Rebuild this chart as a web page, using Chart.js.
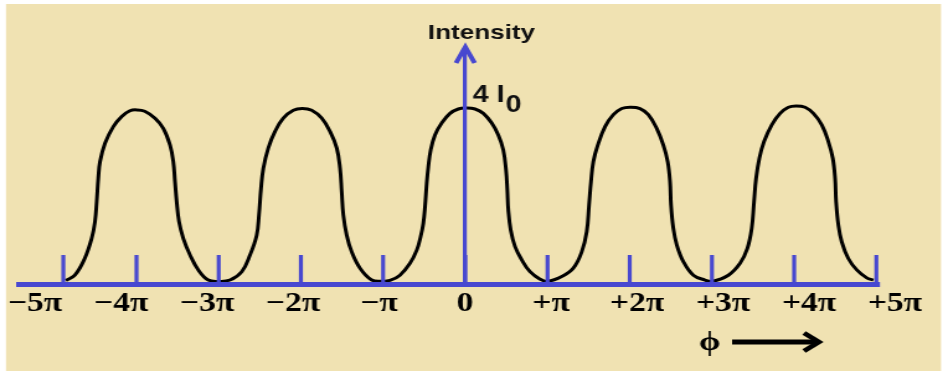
<!DOCTYPE html>
<html>
<head>
<meta charset="utf-8">
<script src="https://cdn.jsdelivr.net/npm/chart.js@4"></script>
<style>
  html, body { margin: 0; padding: 0; background: #fff; }
</style>
</head>
<body>
<!-- the reference is a horizontally stretched bitmap, so draw narrow and stretch -->
<canvas id="chart" width="760" height="373" style="width:943px;height:373px;display:block"></canvas>
<script>
// phase in units of pi, intensity in units of I0
const phi = [
  -4.86, -4.75, -4.63, -4.545, -4.505, -4.484, -4.465, -4.444, -4.383, -4.282, -4.18, -4.08, -4.0,
  -3.90, -3.775, -3.674, -3.592, -3.552, -3.532, -3.511, -3.483, -3.431, -3.349, -3.248, -3.127, -3.0,
  -2.862, -2.72, -2.619, -2.538, -2.51, -2.485, -2.457, -2.397, -2.315, -2.214, -2.092, -1.983,
  -1.869, -1.747, -1.646, -1.564, -1.524, -1.504, -1.484, -1.443, -1.382, -1.281, -1.139, -1.02,
  -0.916, -0.795, -0.673, -0.591, -0.543, -0.511, -0.49, -0.47, -0.45, -0.421, -0.369, -0.287, -0.186, -0.085, 0.0,
  0.118, 0.219, 0.321, 0.401, 0.462, 0.495, 0.511, 0.523, 0.552, 0.605, 0.686, 0.787, 0.909, 1.0,
  1.173, 1.314, 1.416, 1.477, 1.505, 1.529, 1.557, 1.611, 1.70, 1.801, 1.903, 2.004,
  2.125, 2.226, 2.328, 2.409, 2.462, 2.49, 2.502, 2.53, 2.572, 2.652, 2.774, 2.916, 3.0,
  3.2, 3.342, 3.431, 3.484, 3.512, 3.537, 3.577, 3.634, 3.728, 3.829, 3.93, 4.023,
  4.133, 4.234, 4.336, 4.416, 4.47, 4.498, 4.51, 4.538, 4.579, 4.659, 4.762, 4.883, 4.964
];
const intensity = [
  0.08, 0.20, 0.58, 1.04, 1.42, 1.87, 2.40, 2.78, 3.20, 3.58, 3.81, 3.94, 3.96,
  3.93, 3.77, 3.54, 3.16, 2.78, 2.33, 1.87, 1.42, 1.04, 0.66, 0.32, 0.09, 0.06,
  0.09, 0.28, 0.66, 1.11, 1.57, 2.18, 2.63, 3.09, 3.47, 3.77, 3.95, 3.99,
  3.95, 3.77, 3.47, 3.09, 2.63, 2.10, 1.57, 1.11, 0.73, 0.36, 0.09, 0.06,
  0.08, 0.20, 0.47, 0.77, 1.08, 1.38, 1.76, 2.29, 2.67, 3.05, 3.39, 3.66, 3.88, 3.98, 4.0,
  3.98, 3.88, 3.66, 3.39, 3.05, 2.59, 2.14, 1.68, 1.23, 0.85, 0.55, 0.28, 0.11, 0.06,
  0.17, 0.36, 0.73, 1.19, 1.80, 2.33, 2.78, 3.16, 3.58, 3.85, 3.99, 4.02,
  3.99, 3.85, 3.54, 3.16, 2.78, 2.33, 1.80, 1.27, 0.89, 0.51, 0.20, 0.09, 0.06,
  0.20, 0.47, 0.81, 1.27, 1.87, 2.40, 2.86, 3.24, 3.62, 3.88, 4.02, 4.05,
  4.02, 3.88, 3.62, 3.24, 2.86, 2.40, 1.87, 1.34, 0.96, 0.58, 0.32, 0.14, 0.09
];

// tick marks on the phase axis (the -5pi mark sits a little off in the drawing)
const tickValues = [-4.89, -4, -3, -2, -1, 0, 1, 2, 3, 4, 5];
// labels sit slightly wider apart than the marks
const labelValues = [-5, -4, -3, -2, -1, 0, 1, 2, 3, 4, 5];
const tickLabels = ['\u22125\u03c0', '\u22124\u03c0', '\u22123\u03c0', '\u22122\u03c0', '\u2212\u03c0', '0',
  '+\u03c0', '+2\u03c0', '+3\u03c0', '+4\u03c0', '+5\u03c0'];

const BLUE = '#4848d0';
const BEIGE = '#f0e2b2';

const deco = {
  id: 'deco',
  beforeDraw(chart) {
    const ctx = chart.ctx;
    ctx.save();
    ctx.fillStyle = BEIGE;
    ctx.fillRect(4.8, 4, 753.6, 367);
    ctx.restore();
  },
  afterDraw(chart) {
    const { ctx, chartArea } = chart;
    const x = chart.scales.x;
    ctx.save();

    // short tick marks standing on the axis
    ctx.strokeStyle = BLUE;
    ctx.lineWidth = 3.2;
    tickValues.forEach(v => {
      const px = x.getPixelForValue(v);
      ctx.beginPath();
      ctx.moveTo(px, chartArea.bottom);
      ctx.lineTo(px, chartArea.bottom - 29);
      ctx.stroke();
    });

    // arrow head on the intensity axis
    const x0 = x.getPixelForValue(0);
    ctx.lineWidth = 4;
    ctx.lineJoin = 'miter';
    ctx.beginPath();
    ctx.moveTo(x0 - 7.5, chartArea.top + 16);
    ctx.lineTo(x0, chartArea.top);
    ctx.lineTo(x0 + 7.5, chartArea.top + 16);
    ctx.stroke();

    // texts
    ctx.fillStyle = '#111';
    ctx.textBaseline = 'alphabetic';
    ctx.font = 'bold 21px "Liberation Sans", Arial, sans-serif';
    ctx.textAlign = 'center';
    ctx.fillText('Intensity', 388, 38.5);

    ctx.textAlign = 'left';
    ctx.font = 'bold 23px "Liberation Sans", Arial, sans-serif';
    ctx.fillText('4 I', 381, 102);
    ctx.fillText('0', 407.5, 112);

    ctx.fillStyle = '#000';
    ctx.font = 'bold 28px "Liberation Serif", "DejaVu Serif", serif';
    ctx.textAlign = 'center';
    ctx.fillText('\u03d5', 572, 350);

    ctx.strokeStyle = '#000';
    ctx.lineWidth = 5;
    ctx.beginPath();
    ctx.moveTo(590, 342);
    ctx.lineTo(658, 342);
    ctx.stroke();
    ctx.lineWidth = 4.5;
    ctx.beginPath();
    ctx.moveTo(648, 333);
    ctx.lineTo(660, 342);
    ctx.lineTo(648, 351);
    ctx.stroke();

    ctx.restore();
  }
};

new Chart(document.getElementById('chart'), {
  type: 'line',
  data: {
    datasets: [{
      data: phi.map((p, i) => ({ x: p, y: intensity[i] })),
      borderColor: '#000',
      borderWidth: 3,
      pointRadius: 0,
      tension: 0.4,
      fill: false
    }]
  },
  options: {
    responsive: false,
    animation: false,
    devicePixelRatio: 1,
    layout: { padding: { left: 15.26, right: 52.4, top: 47, bottom: 48.6 } },
    plugins: { legend: { display: false }, tooltip: { enabled: false } },
    scales: {
      x: {
        type: 'linear',
        min: -5.43,
        max: 5.02,
        afterBuildTicks: s => { s.ticks = tickValues.map(v => ({ value: v })); },
        ticks: { display: false },
        grid: {
          z: 1,
          drawTicks: false,
          tickLength: 0,
          lineWidth: 3.2,
          color: c => (c.tick && c.tick.value === 0 ? BLUE : 'rgba(0,0,0,0)')
        },
        border: { display: true, color: BLUE, width: 5, z: 1 }
      },
      xl: {
        type: 'linear',
        position: 'bottom',
        weight: 1,
        min: -5.188,
        max: 4.802,
        afterBuildTicks: s => { s.ticks = labelValues.map(v => ({ value: v })); },
        grid: { display: false, drawTicks: false, tickLength: 0 },
        border: { display: false },
        ticks: {
          padding: 4,
          autoSkip: false,
          maxRotation: 0,
          color: '#000',
          font: { family: '"Liberation Serif", "Times New Roman", serif', size: 27, weight: 'bold' },
          callback: (v, i) => tickLabels[i]
        }
      },
      y: { display: false, min: 0, max: 5.39 }
    }
  },
  plugins: [deco]
});
</script>
</body>
</html>
